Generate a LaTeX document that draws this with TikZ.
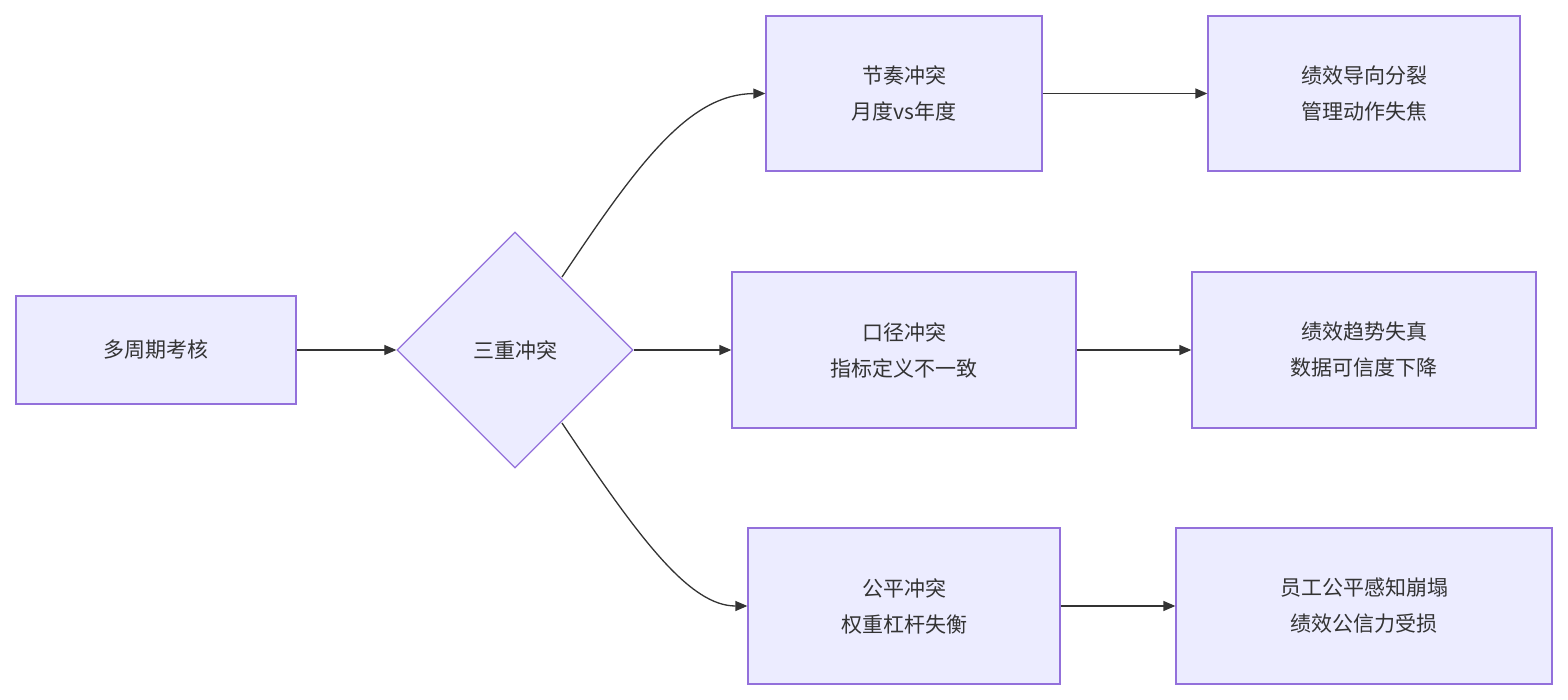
\documentclass[tikz,border=0pt]{standalone}
\usepackage{fontspec}
\setmainfont{Noto Sans CJK SC}
\usetikzlibrary{shapes.geometric,arrows.meta}
\definecolor{nf}{HTML}{ECECFF}
\definecolor{ns}{HTML}{9370DB}
\definecolor{ln}{HTML}{333333}
\begin{document}
\begin{tikzpicture}[x=1pt,y=-1pt,
 box/.style={draw=ns,fill=nf,line width=1.3pt,rectangle,inner sep=0,align=center,font=\fontsize{21}{36}\selectfont,text=ln},
 arr/.style={draw=ln,line width=1.3pt,-{Triangle[length=12pt,width=10pt]}}]
\useasboundingbox (0,0) rectangle (1568,700);
\node[box,minimum width=280,minimum height=108] (a) at (156,350) {多周期考核};
\node[box,shape=diamond,aspect=1,minimum width=236,minimum height=236] (d) at (515,350) {三重冲突};
\node[box,minimum width=276,minimum height=155] (b1) at (904,93.5) {节奏冲突\\月度vs年度};
\node[box,minimum width=344,minimum height=156] (b2) at (904,350) {口径冲突\\指标定义不一致};
\node[box,minimum width=312,minimum height=156] (b3) at (904,606) {公平冲突\\权重杠杆失衡};
\node[box,minimum width=312,minimum height=155] (c1) at (1364,93.5) {绩效导向分裂\\管理动作失焦};
\node[box,minimum width=344,minimum height=156] (c2) at (1364,350) {绩效趋势失真\\数据可信度下降};
\node[box,minimum width=376,minimum height=156] (c3) at (1364,606) {员工公平感知崩塌\\绩效公信力受损};
\coordinate (dt) at (562,277);
\coordinate (db) at (562,423);
\draw[arr] (a) -- (d);
\draw[arr] (d) -- (b2);
\draw[arr] (dt) .. controls (640,160) and (690,94) .. (b1.west);
\draw[arr] (db) .. controls (640,540) and (690,606) .. (b3.west);
\draw[arr] (b1) -- (c1);
\draw[arr] (b2) -- (c2);
\draw[arr] (b3) -- (c3);
\end{tikzpicture}
\end{document}
